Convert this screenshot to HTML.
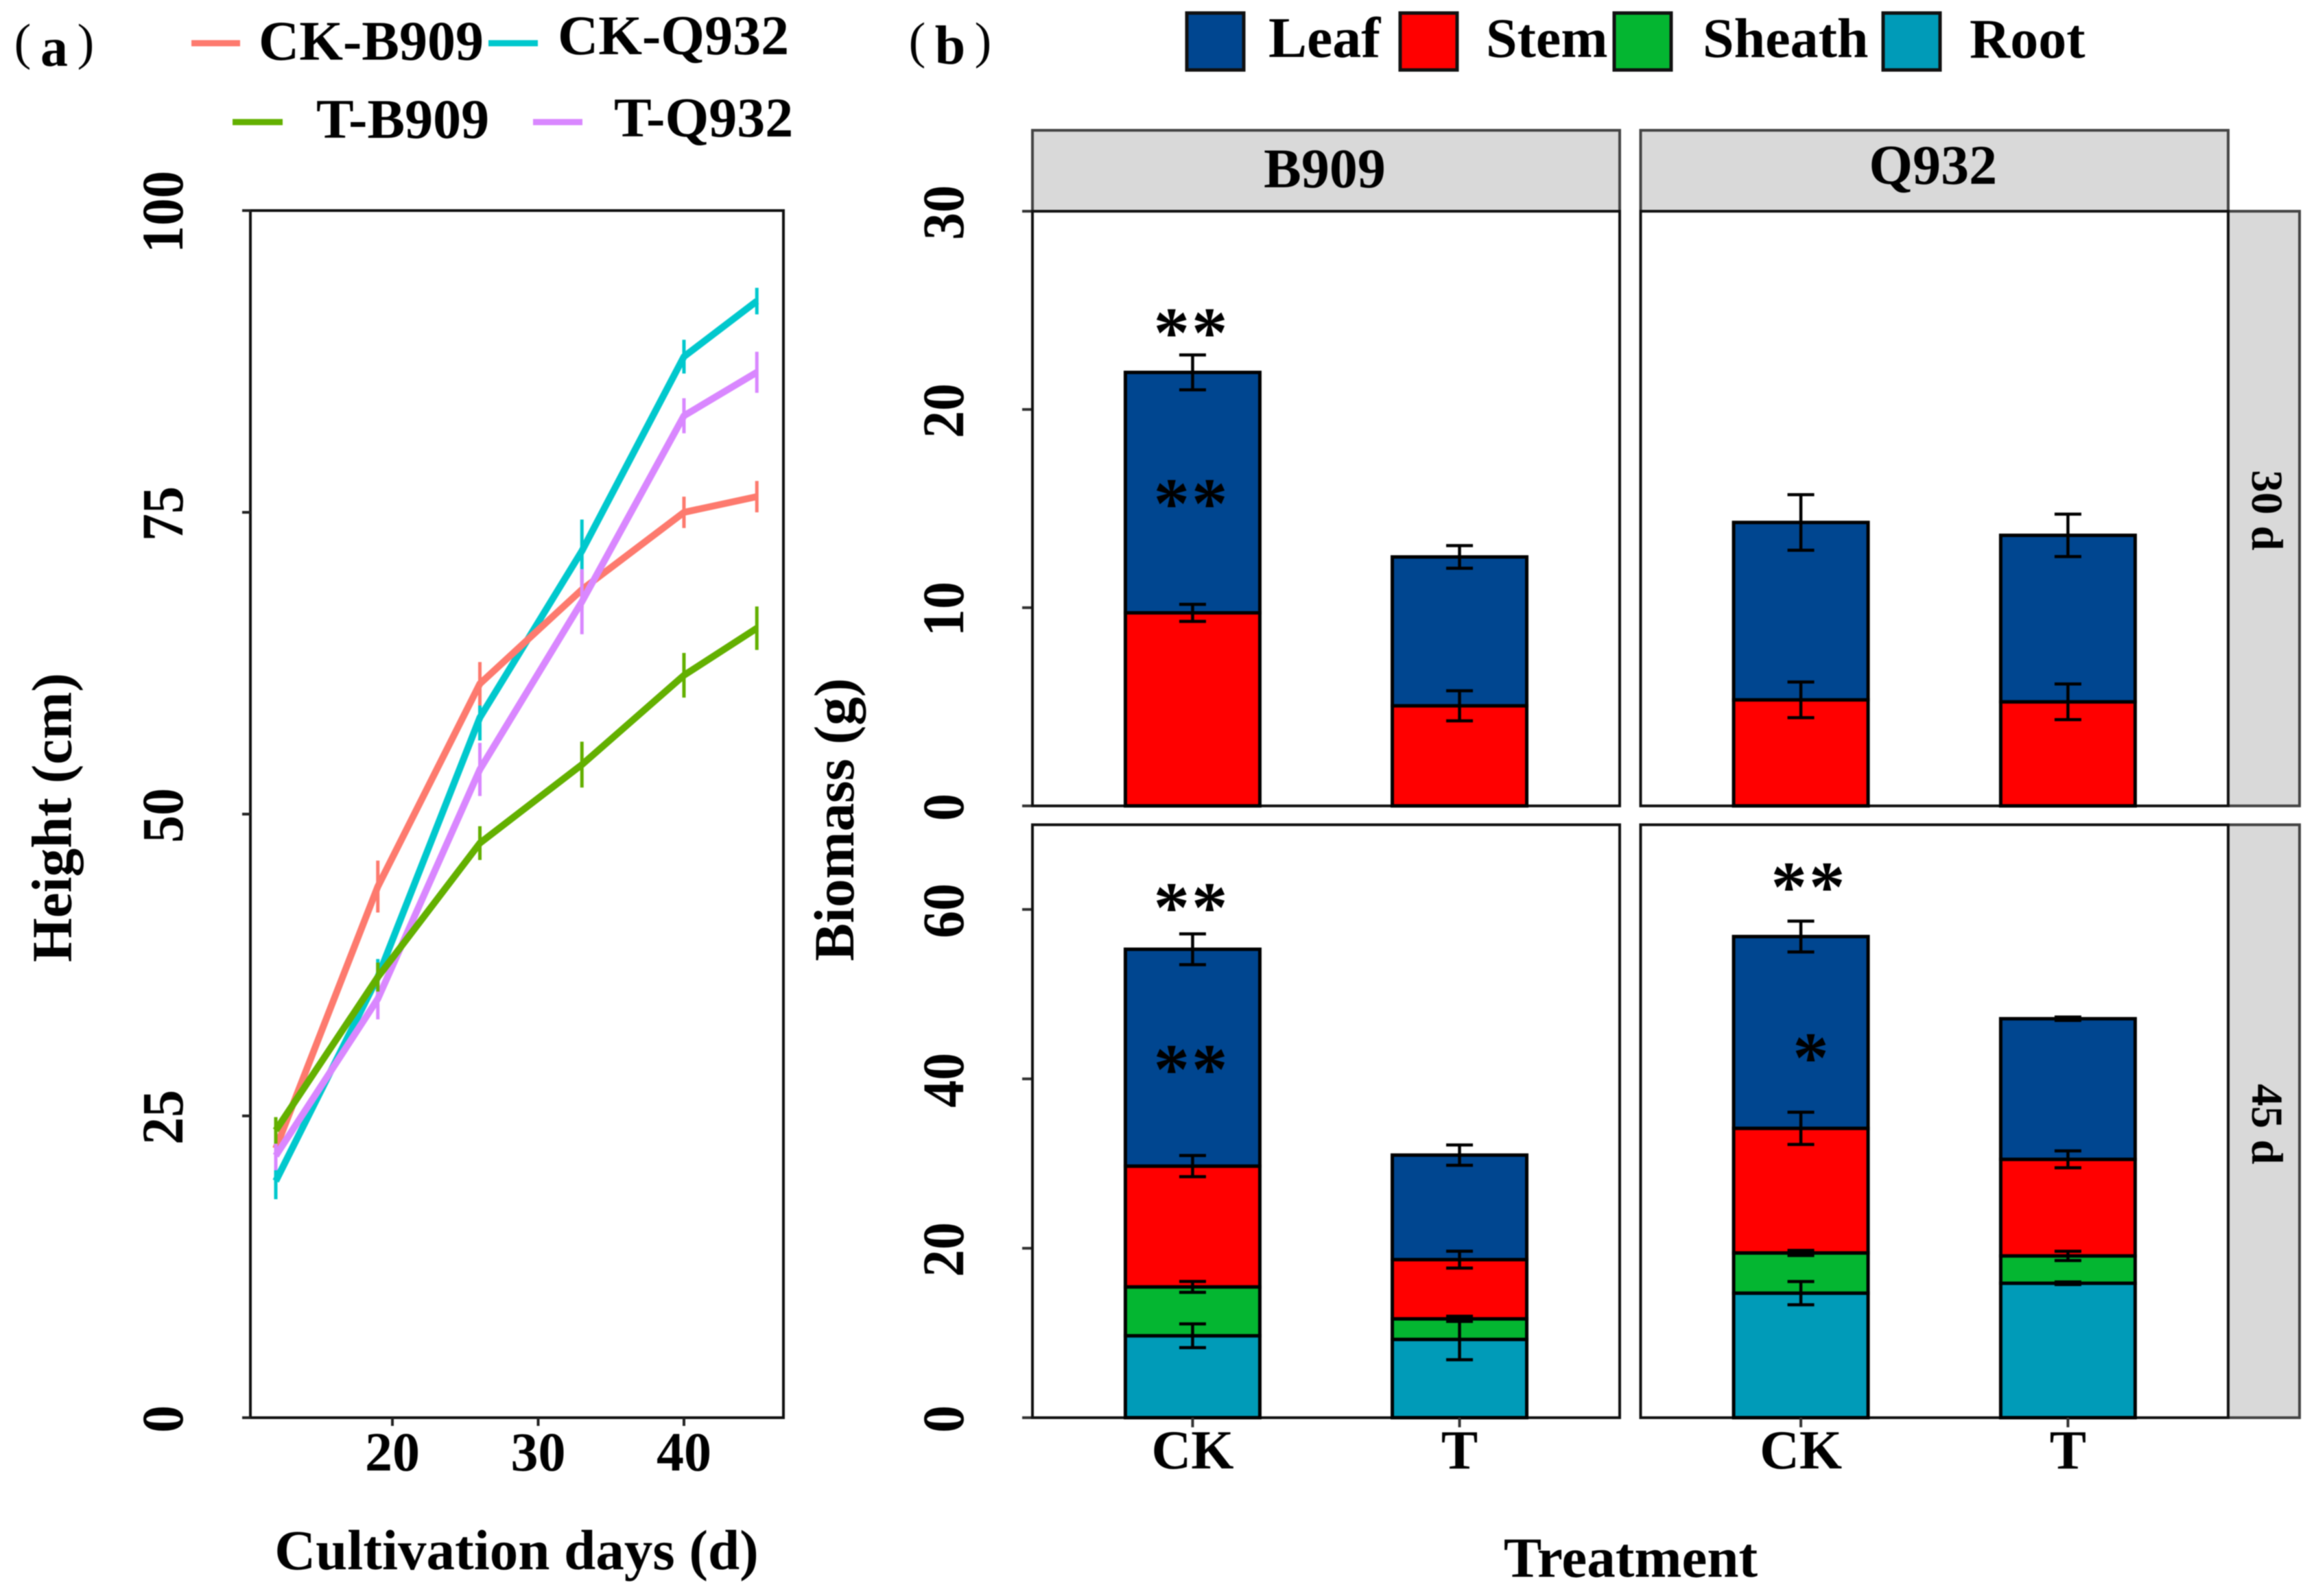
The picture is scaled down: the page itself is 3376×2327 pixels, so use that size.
<!DOCTYPE html>
<html>
<head>
<meta charset="utf-8">
<title>Height and biomass chart</title>
<style>
html,body{margin:0;padding:0;background:#fff}
svg{display:block;filter:blur(0.8px)}
text{font-family:"Liberation Serif","Noto Serif CJK SC",serif;font-weight:bold;fill:#000}
.star{font-size:105px;letter-spacing:3px;text-anchor:middle}
.paren{font-weight:normal;font-size:74px;text-anchor:middle}
.tick{font-size:80px}
.title{font-size:83px}
.legend{font-size:82px}
.strip{font-size:82px}
</style>
</head>
<body>
<svg id="chart" xmlns="http://www.w3.org/2000/svg" width="3376" height="2327" viewBox="0 0 3376 2327">
  <rect x="0" y="0" width="3376" height="2327" fill="#fff"/>

  <!-- panel (a) static text and legend -->
  <g>
    <text class="paren" x="33" y="86">(</text>
    <text x="79" y="96" font-size="80" text-anchor="middle">a</text>
    <text class="paren" x="125" y="86">)</text>
  </g>
  <g>
    <line x1="279" x2="350" y1="63" y2="63" stroke="#fd7a6e" stroke-width="9"/>
    <text class="legend" x="377" y="87">CK-B909</text>
    <line x1="712" x2="784" y1="63" y2="63" stroke="#00c8cd" stroke-width="9"/>
    <text class="legend" x="813" y="79">CK-Q932</text>
    <line x1="339" x2="412" y1="178" y2="178" stroke="#63b000" stroke-width="9"/>
    <text class="legend" x="461" y="201">T-B909</text>
    <line x1="777" x2="849" y1="178" y2="178" stroke="#d987ff" stroke-width="9"/>
    <text class="legend" x="895" y="199">T-Q932</text>
  </g>
  <text class="title" transform="rotate(-90 103.5 1192)" x="103.5" y="1192" text-anchor="middle">Height (cm)</text>
  <text class="title" x="753" y="2288" text-anchor="middle">Cultivation days (d)</text>

  <!-- panel (b) static text and legend -->
  <g>
    <text class="paren" x="1337" y="84">(</text>
    <text x="1385" y="93" font-size="80" text-anchor="middle">b</text>
    <text class="paren" x="1433" y="84">)</text>
  </g>
  <g>
    <rect x="1730" y="19" width="83" height="83" fill="#004690" stroke="#111" stroke-width="5"/>
    <text class="legend" x="1849" y="83" font-size="84" style="font-size:84px">Leaf</text>
    <rect x="2041" y="19" width="83" height="83" fill="#ff0000" stroke="#111" stroke-width="5"/>
    <text class="legend" x="2166" y="83">Stem</text>
    <rect x="2353" y="19" width="83" height="83" fill="#04b631" stroke="#111" stroke-width="5"/>
    <text class="legend" x="2482" y="83">Sheath</text>
    <rect x="2745" y="19" width="83" height="83" fill="#009bb8" stroke="#111" stroke-width="5"/>
    <text class="legend" x="2871" y="84">Root</text>
  </g>
  <text class="title" transform="rotate(-90 1244 1195)" x="1244" y="1195" text-anchor="middle">Biomass (g)</text>
  <text class="title" x="2377" y="2299" text-anchor="middle">Treatment</text>

  <g id="lineChart"></g>
  <g id="barChart"></g>

  <g id="stars">
    <text class="star" x="1737" y="520">**</text>
    <text class="star" x="1737" y="769">**</text>
    <text class="star" x="1737" y="1358">**</text>
    <text class="star" x="1737" y="1594">**</text>
    <text class="star" x="2637" y="1328">**</text>
    <text class="star" x="2641" y="1577">*</text>
  </g>
</svg>

<script>
// ---- line chart data ----
const days = [12, 19, 26, 33, 40, 45];
const ckB909 = [22.3, 44, 60.8, 68.6, 75, 76.3];
const ckQ932 = [19.6, 36.5, 58, 71.8, 87.9, 92.5];
const tQ932 = [21.7, 34.7, 53.7, 67.6, 83, 86.6];
const tB909 = [23.8, 36.5, 47.6, 54.1, 61.5, 65.4];
const ckB909Err = [1.0, 2.15, 1.8, 1.5, 1.3, 1.3];
const ckQ932Err = [1.5, 1.5, 1.9, 2.6, 1.4, 1.1];
const tQ932Err = [1.2, 1.7, 2.2, 2.7, 1.45, 1.7];
const tB909Err = [1.1, 1.2, 1.4, 1.9, 1.85, 1.8];
const heightTicks = [0, 25, 50, 75, 100];
const dayTicks = [20, 30, 40];

// ---- bar chart data ----
const treatments = ['CK', 'T'];
const varieties = ['B909', 'Q932'];
const stages = ['30 d', '45 d'];
// values in order: B909-CK, B909-T, Q932-CK, Q932-T
const stem30 = [9.74, 5.05, 5.35, 5.25];
const leaf30 = [12.13, 7.51, 8.95, 8.40];
const stem30Err = [0.43, 0.76, 0.9, 0.9];
const leaf30Err = [0.88, 0.57, 1.4, 1.07];
const root45 = [9.67, 9.24, 14.7, 15.87];
const sheath45 = [5.77, 2.43, 4.75, 3.23];
const stem45 = [14.26, 6.99, 14.71, 11.4];
const leaf45 = [25.6, 12.34, 22.64, 16.6];
const root45Err = [1.4, 2.4, 1.37, 0.15];
const sheath45Err = [0.64, 0.3, 0.3, 0.55];
const stem45Err = [1.25, 1.0, 1.9, 1.0];
const leaf45Err = [1.82, 1.2, 1.82, 0.2];
const ticks30 = [0, 10, 20, 30];
const ticks45 = [0, 20, 40, 60];

const NS = 'http://www.w3.org/2000/svg';
function make(parent, tag, attrs, txt) {
  const el = document.createElementNS(NS, tag);
  for (const k in attrs) el.setAttribute(k, attrs[k]);
  if (txt !== undefined) el.textContent = txt;
  parent.appendChild(el);
  return el;
}

// ---------- line chart ----------
(function () {
  const g = document.getElementById('lineChart');
  const L = 365, R = 1142, T = 307, B = 2067;
  const xS = d => 572 + (d - 20) * 21.25;
  const yS = v => B - v * (B - T) / 100;

  const frameEl = make(g, 'rect', {x: L, y: T, width: R - L, height: B - T, fill: '#fff', stroke: '#111', 'stroke-width': 4});
  
  

  heightTicks.forEach(v => {
    const tick = make(g, 'line', {x1: L - 12, x2: L, y1: yS(v), y2: yS(v), stroke: '#222', 'stroke-width': 4});
    
    
    const label = make(g, 'text', {class: 'tick', x: 0, y: 0, 'text-anchor': 'middle', transform: `translate(266 ${yS(v) + 2}) rotate(-90) scale(1 1.07)`}, v);
    
    
  });
  dayTicks.forEach(d => {
    const tick = make(g, 'line', {x1: xS(d), x2: xS(d), y1: B, y2: B + 12, stroke: '#222', 'stroke-width': 4});
    
    
    const label = make(g, 'text', {class: 'tick', x: xS(d), y: 2144, 'text-anchor': 'middle'}, d);
    
    
  });

  const series = [
    ['ck-q932', ckQ932, ckQ932Err, '#00c8cd'],
    ['ck-b909', ckB909, ckB909Err, '#fd7a6e'],
    ['t-q932', tQ932, tQ932Err, '#d987ff'],
    ['t-b909', tB909, tB909Err, '#63b000']
  ];
  series.forEach(([name, vals, errs, col]) => {
    const pts = vals.map((v, i) => xS(days[i]) + ',' + yS(v)).join(' ');
    const line = make(g, 'polyline', {points: pts, fill: 'none', stroke: col, 'stroke-width': 10, 'stroke-linejoin': 'round'});
    
    
    vals.forEach((v, i) => {
      const e = make(g, 'line', {x1: xS(days[i]), x2: xS(days[i]), y1: yS(v - errs[i]), y2: yS(v + errs[i]), stroke: col, 'stroke-width': 5});
      
      
    });
  });
})();

// ---------- stacked bars ----------
(function () {
  const g = document.getElementById('barChart');
  const panelsX = [[1505, 2361], [2391.5, 3248]];
  const rows = [
    {T: 308, B: 1175, max: 30, ticks: ticks30, stage: stages[0],
     layers: [['stem', stem30, stem30Err, '#ff0000'], ['leaf', leaf30, leaf30Err, '#004690']]},
    {T: 1202.5, B: 2067, max: 70, ticks: ticks45, stage: stages[1],
     layers: [['root', root45, root45Err, '#009bb8'], ['sheath', sheath45, sheath45Err, '#04b631'],
              ['stem', stem45, stem45Err, '#ff0000'], ['leaf', leaf45, leaf45Err, '#004690']]}
  ];
  const xBand = (p, i) => {
    const [a, b] = panelsX[p];
    return a + (b - a) * (0.6 + i) / 2.2;
  };
  const barW = 196, capHalf = 19.5;

  // column strips
  varieties.forEach((name, p) => {
    const [a, b] = panelsX[p];
    const strip = make(g, 'rect', {x: a, y: 190, width: b - a, height: 118, fill: '#d9d9d9', stroke: '#444', 'stroke-width': 4});
    
    
    const label = make(g, 'text', {class: 'strip', x: (a + b) / 2 - 2, y: p === 0 ? 273 : 268, 'text-anchor': 'middle'}, name);
    
    
  });

  rows.forEach((row) => {
    const yS = v => row.B - v * (row.B - row.T) / row.max;
    const rowId = row.stage.replace(' ', '');

    // row strip
    const rs = make(g, 'rect', {x: 3248, y: row.T, width: 104, height: row.B - row.T, fill: '#d9d9d9', stroke: '#444', 'stroke-width': 4});
    
    
    const cy = rowId === '30d' ? 744 : 1639;
    const rl = make(g, 'text', {x: 3283, y: cy, 'font-size': 65, 'text-anchor': 'middle', transform: `rotate(90 3283 ${cy})`}, row.stage);
    
    

    // y ticks
    row.ticks.forEach(v => {
      const tick = make(g, 'line', {x1: 1490, x2: 1505, y1: yS(v), y2: yS(v), stroke: '#333', 'stroke-width': 4});
      
      
      const label = make(g, 'text', {class: 'tick', x: 0, y: 0, 'text-anchor': 'middle', transform: `translate(1404 ${yS(v) + 2}) rotate(-90) scale(1 1.07)`}, v);
      
      
    });

    varieties.forEach((variety, p) => {
      const [a, b] = panelsX[p];
      const panel = make(g, 'rect', {x: a, y: row.T, width: b - a, height: row.B - row.T, fill: '#fff', stroke: '#111', 'stroke-width': 4});
      
      

      treatments.forEach((tr, i) => {
        const idx = p * 2 + i;
        const cx = xBand(p, i);
        let base = 0;
        const errs = [];
        row.layers.forEach(([name, vals, errVals, col]) => {
          const top = base + vals[idx];
          const r = make(g, 'rect', {x: cx - barW / 2, y: yS(top), width: barW, height: yS(base) - yS(top), fill: col, stroke: '#000', 'stroke-width': 5});
          
          
          errs.push([name, top, errVals[idx]]);
          base = top;
        });
        errs.forEach(([name, top, e]) => {
          const d = `M${cx - capHalf} ${yS(top + e)}H${cx + capHalf}M${cx} ${yS(top + e)}V${yS(top - e)}M${cx - capHalf} ${yS(top - e)}H${cx + capHalf}`;
          const eb = make(g, 'path', {d: d, fill: 'none', stroke: '#000', 'stroke-width': 4.5});
          
          
        });
      });
    });
  });

  // x ticks and labels
  varieties.forEach((variety, p) => {
    treatments.forEach((tr, i) => {
      const cx = xBand(p, i);
      const tick = make(g, 'line', {x1: cx, x2: cx, y1: 2067, y2: 2081, stroke: '#333', 'stroke-width': 4});
      
      
      const label = make(g, 'text', {class: 'tick', x: cx, y: 2141, 'text-anchor': 'middle'}, tr);
      
      
    });
  });
})();
</script>
</body>
</html>
